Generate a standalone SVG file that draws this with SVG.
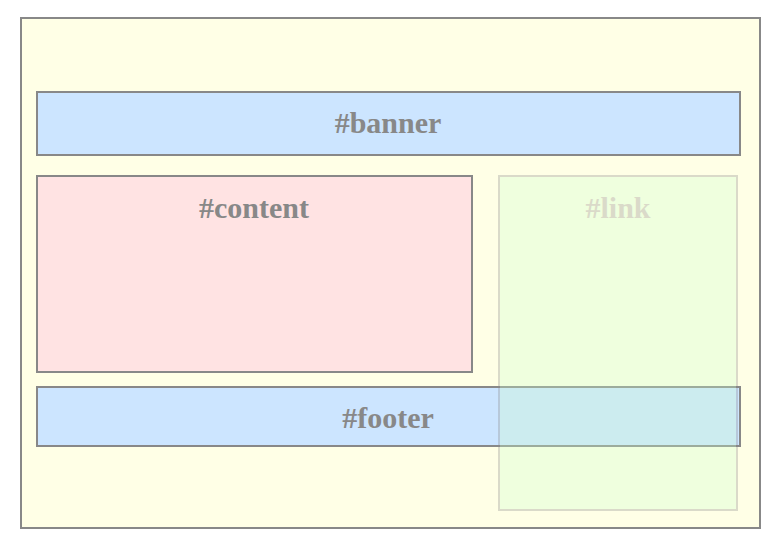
<svg xmlns="http://www.w3.org/2000/svg" width="781" height="545" viewBox="0 0 781 545">
  <style>
    .box { stroke: #888888; stroke-width: 2; }
    .label { font-family: "Liberation Serif", "Times New Roman", serif; font-weight: bold; font-size: 30px; fill: #888888; text-anchor: middle; }
  </style>
  <rect width="781" height="545" fill="#ffffff"/>
  <!-- page wrapper -->
  <g id="wrapper">
    <rect class="box" x="21" y="18" width="739" height="510" fill="#ffffe6"/>
  </g>
  <g id="banner">
    <rect class="box" x="37" y="92" width="703" height="63" fill="#cce5ff"/>
    <text class="label" x="388" y="133">#banner</text>
  </g>
  <g id="content">
    <rect class="box" x="37" y="176" width="435" height="196" fill="#ffe3e3"/>
    <text class="label" x="254" y="218">#content</text>
  </g>
  <g id="footer">
    <rect class="box" x="37" y="387" width="703" height="59" fill="#cce5ff"/>
    <text class="label" x="388" y="428">#footer</text>
  </g>
  <!-- sidebar sits above the footer, mostly transparent -->
  <g id="link" opacity="0.3">
    <rect class="box" x="499" y="176" width="238" height="334" fill="#ccffcc"/>
    <text class="label" x="618" y="218">#link</text>
  </g>
</svg>
